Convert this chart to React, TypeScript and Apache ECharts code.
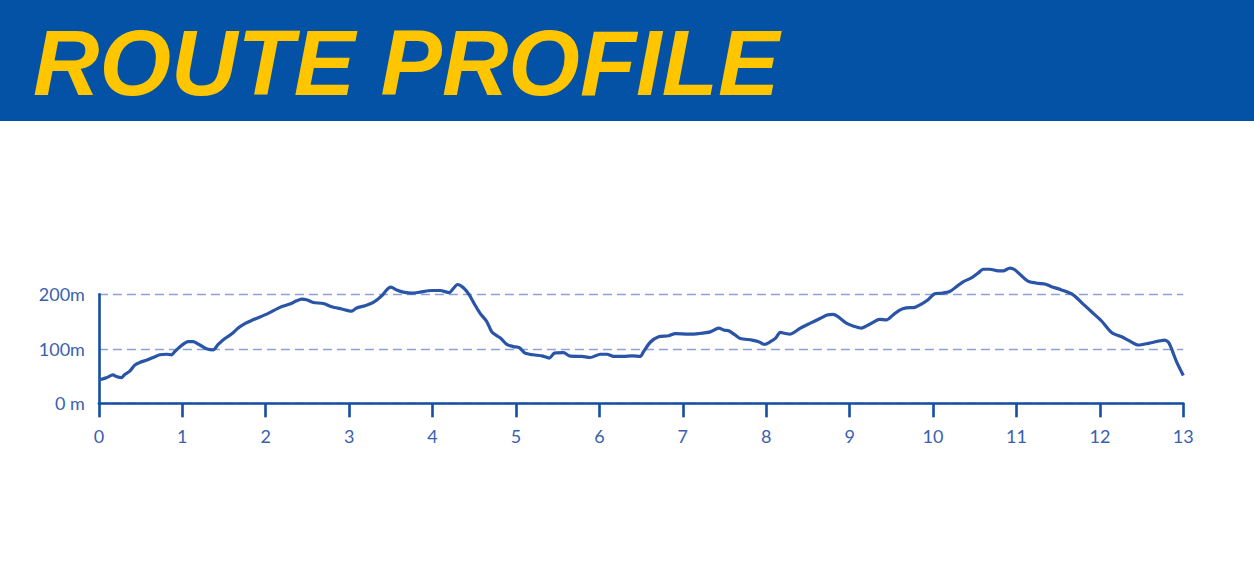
import React, { useEffect, useRef } from "react";
import * as echarts from "echarts";

// Distance along the route (km) and elevation (m)
const distKm = [
  0, 0.09, 0.17, 0.21, 0.27, 0.31, 0.37, 0.43, 0.49, 0.57, 0.65, 0.73, 0.81, 0.87, 0.91, 0.99,
  1.07, 1.13, 1.21, 1.29, 1.37, 1.43, 1.51, 1.59, 1.67, 1.75, 1.83, 2.03, 2.17, 2.29, 2.37, 2.43,
  2.49, 2.57, 2.69, 2.79, 2.91, 3.03, 3.09, 3.19, 3.29, 3.39, 3.45, 3.5, 3.57, 3.65, 3.75, 3.85,
  3.99, 4.09, 4.2, 4.25, 4.3, 4.37, 4.44, 4.51, 4.57, 4.65, 4.71, 4.77, 4.82, 4.89, 4.97, 5.04,
  5.11, 5.21, 5.31, 5.4, 5.46, 5.57, 5.64, 5.79, 5.89, 6.01, 6.09, 6.17, 6.29, 6.39, 6.49, 6.53,
  6.61, 6.71, 6.83, 6.91, 7.07, 7.19, 7.33, 7.43, 7.5, 7.55, 7.63, 7.69, 7.83, 7.91, 7.98, 8.05,
  8.11, 8.17, 8.23, 8.29, 8.41, 8.53, 8.65, 8.73, 8.8, 8.86, 8.96, 9.04, 9.14, 9.24, 9.36, 9.44,
  9.52, 9.6, 9.68, 9.78, 9.86, 9.94, 10.02, 10.1, 10.2, 10.28, 10.36, 10.46, 10.54, 10.6, 10.68,
  10.78, 10.84, 10.92, 10.98, 11.06, 11.14, 11.26, 11.34, 11.42, 11.54, 11.68, 11.8, 11.9, 12.02,
  12.14, 12.26, 12.36, 12.46, 12.58, 12.7, 12.78, 12.83, 12.92, 13,
];

const elevM = [
  43, 47, 52, 49, 47, 53, 59, 70, 75, 79, 84, 89, 90, 89, 95, 106,
  113, 113, 107, 100, 98, 108, 119, 127, 138, 146, 152, 165, 176, 182, 188, 191,
  190, 185, 183, 177, 173, 169, 175, 179, 185, 197, 208, 213, 208, 204, 202, 204,
  207, 207, 203, 211, 218, 212, 199, 180, 165, 150, 131, 124, 119, 108, 104, 102,
  92, 89, 87, 83, 92, 93, 87, 86, 84, 90, 90, 86, 86, 87, 86, 95,
  112, 122, 124, 128, 127, 128, 131, 138, 134, 133, 125, 119, 116, 113, 108, 113,
  119, 130, 128, 127, 138, 147, 156, 162, 163, 159, 147, 142, 138, 145, 154, 153,
  162, 171, 175, 176, 182, 190, 201, 202, 205, 214, 223, 230, 239, 246, 246,
  243, 243, 248, 245, 234, 224, 220, 219, 214, 208, 199, 182, 168, 151,
  130, 122, 114, 107, 110, 114, 116, 110, 76, 51,
];

const elevTicks: Record<number, string> = { 0: "0 m", 100: "100m", 200: "200m" };

const TITLE = "ROUTE PROFILE";

export default function App() {
  const ref = useRef<HTMLDivElement>(null);

  useEffect(() => {
    document.body.style.margin = "0";
    if (!ref.current) return;
    const chart = echarts.init(ref.current, undefined, { renderer: "svg" });

    const axisBlue = "#124fa2";
    const labelBlue = "#3a61ae";
    const font = "Lato, 'Noto Sans', sans-serif";

    chart.setOption({
      animation: false,
      backgroundColor: "#ffffff",
      graphic: [
        {
          type: "rect",
          left: 0,
          top: 0,
          shape: { width: 1254, height: 121 },
          style: { fill: "#0352a5" },
          z: 0,
        },
      ],
      title: {
        text: TITLE,
        left: 33,
        top: 17,
        padding: 0,
        textStyle: {
          color: "#ffc600",
          fontSize: 92,
          fontStyle: "italic",
          fontWeight: "bold",
          fontFamily: "'Liberation Sans', Arial, sans-serif",
        },
        z: 5,
      },
      grid: {
        left: 98.9,
        right: 70.7,
        top: 294.3,
        bottom: 158.7,
        outerBoundsMode: "none",
      },
      xAxis: {
        type: "value",
        min: 0,
        max: 13,
        interval: 1,
        axisLine: { show: true, lineStyle: { color: axisBlue, width: 2.6 } },
        axisTick: { show: true, length: 14, lineStyle: { color: axisBlue, width: 2.6 } },
        axisLabel: {
          margin: 24,
          color: labelBlue,
          fontSize: 18,
          fontFamily: font,
        },
        splitLine: { show: false },
      },
      yAxis: {
        type: "value",
        min: 0,
        max: 200,
        interval: 100,
        axisLine: { show: true, lineStyle: { color: axisBlue, width: 2.6 } },
        axisTick: { show: false },
        axisLabel: {
          margin: 14,
          color: labelBlue,
          fontSize: 18,
          fontFamily: font,
          formatter: (v: number) => elevTicks[v] ?? String(v),
        },
        splitLine: {
          show: true,
          lineStyle: { color: "#8e9fdc", width: 1.3, type: [9, 5] },
        },
      },
      series: [
        {
          type: "line",
          data: distKm.map((d, i) => [d, elevM[i]]),
          showSymbol: false,
          clip: false,
          smooth: 0.25,
          lineStyle: { color: "#2a54a6", width: 3.2 },
          z: 3,
        },
      ],
    });

    return () => chart.dispose();
  }, []);

  return <div ref={ref} style={{ width: 1254, height: 562 }} />;
}
